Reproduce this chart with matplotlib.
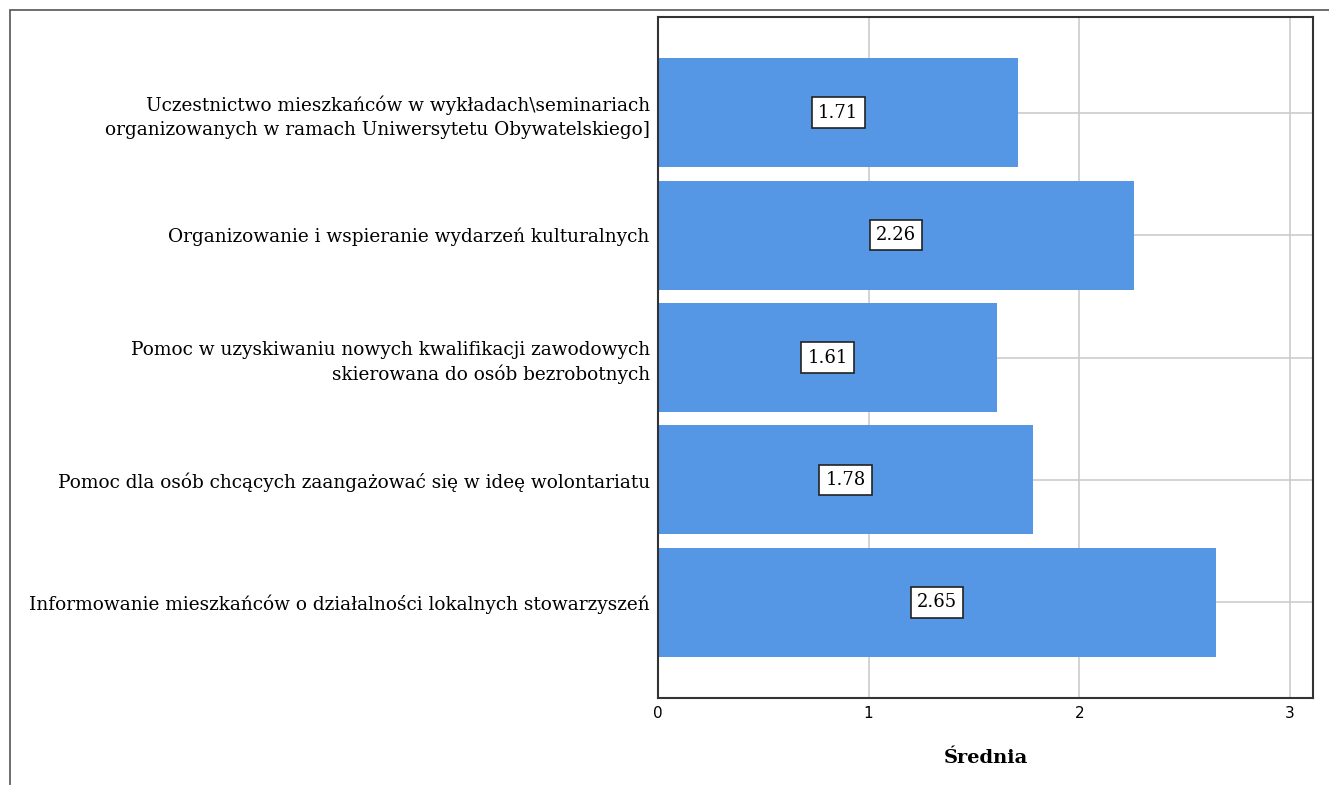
import matplotlib
matplotlib.use("Agg")
import matplotlib.pyplot as plt
from matplotlib.patches import Rectangle

categories = [
    "Uczestnictwo mieszkańców w wykładach\\seminariach\norganizowanych w ramach Uniwersytetu Obywatelskiego]",
    "Organizowanie i wspieranie wydarzeń kulturalnych",
    "Pomoc w uzyskiwaniu nowych kwalifikacji zawodowych\nskierowana do osób bezrobotnych",
    "Pomoc dla osób chcących zaangażować się w ideę wolontariatu",
    "Informowanie mieszkańców o działalności lokalnych stowarzyszeń",
]
values = [1.71, 2.26, 1.61, 1.78, 2.65]
xticks = [0, 1, 2, 3]
xlabel = "Średnia"

W, H = 1329, 785
fig = plt.figure(figsize=(W / 100, H / 100), dpi=100)
fig.patch.set_facecolor("white")

# outer frame
fig.add_artist(Rectangle((10 / W, -0.01), (W + 10) / W, (H - 10) / H + 0.01,
                         transform=fig.transFigure, fill=False,
                         edgecolor="#555555", linewidth=1.2))

ax = fig.add_axes([658 / W, 1 - 698 / H, (1313 - 658) / W, (698 - 17) / H])
pos = list(range(len(categories)))
ax.barh(pos, values, height=0.89, color="#5596e5", zorder=2)
ax.set_ylim(4.78, -0.78)
ax.set_xlim(0, 3.11)
ax.set_xticks(xticks)
ax.set_xticklabels([str(t) for t in xticks], fontsize=11, family="DejaVu Sans")
ax.set_yticks(pos)
ax.set_yticklabels(categories, fontsize=13.3, family="DejaVu Serif",
                   ha="right", linespacing=1.4)
ax.tick_params(axis="both", length=0)
ax.tick_params(axis="y", pad=6)
ax.tick_params(axis="x", pad=6)
ax.grid(True, color="#cccccc", linewidth=1.2, zorder=0)
ax.set_axisbelow(True)
for s in ax.spines.values():
    s.set_color("#333333")
    s.set_linewidth(1.5)

for p, v in zip(pos, values):
    ax.text(v / 2, p, f"{v:.2f}", ha="center", va="center", fontsize=13,
            family="DejaVu Serif", zorder=3,
            bbox=dict(boxstyle="square,pad=0.35", facecolor="white",
                      edgecolor="#222222", linewidth=1.2))

ax.set_xlabel(xlabel, fontsize=14, family="DejaVu Serif",
              fontweight="bold", labelpad=20)

fig.savefig("out.png", dpi=100)
